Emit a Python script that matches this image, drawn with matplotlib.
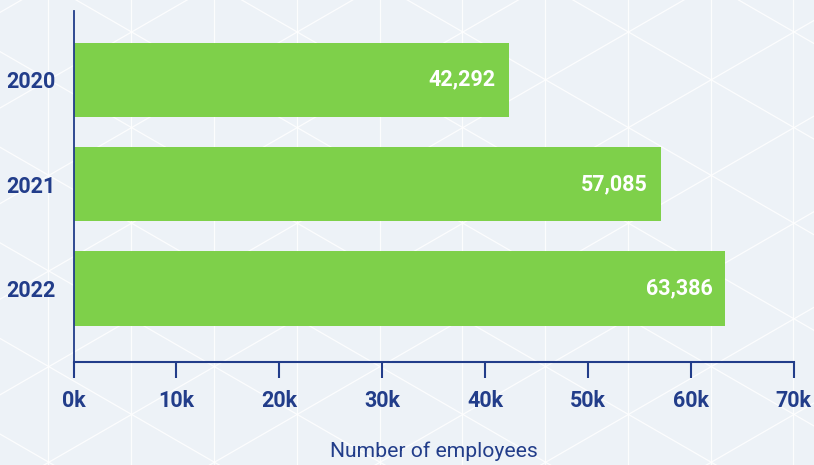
import matplotlib.pyplot as plt
import numpy as np

years = ['2020', '2021', '2022']
employees = [42292, 57085, 63386]
tick_values = [0, 10000, 20000, 30000, 40000, 50000, 60000, 70000]

navy = '#223d8a'
green = '#7ed04a'
bg = '#edf2f7'

plt.rcParams['font.family'] = ['Roboto', 'DejaVu Sans']

fig = plt.figure(figsize=(8.14, 4.65), dpi=100)
fig.patch.set_facecolor(bg)

# faint triangle lattice behind the chart (pixel coordinates)
back = fig.add_axes([0, 0, 1, 1], zorder=0)
back.set_xlim(0, 814)
back.set_ylim(465, 0)
back.axis('off')
step = 82.8
side = step / np.cos(np.pi / 6)
slope = np.tan(np.pi / 6)
for k in range(-1, 12):
    back.axvline(48.3 + k * step, color='white', lw=0.9, alpha=0.85)
xs = np.array([0, 814])
for n in range(-12, 16):
    back.plot(xs, slope * xs - 44.0 + n * side, color='white', lw=0.9, alpha=0.85)
    back.plot(xs, -slope * xs + 108.0 + n * side, color='white', lw=0.9, alpha=0.85)

ax = fig.add_axes([73.5 / 814, 1 - 361.7 / 465, 720 / 814, 351 / 465], zorder=1)
ax.patch.set_alpha(0)

pos = np.arange(len(years))
ax.barh(pos, employees, height=0.71, color=green, zorder=2)
for p, v in zip(pos, employees):
    ax.annotate(f'{v:,}', (v, p), xytext=(-13, 0), textcoords='offset pixels',
                ha='right', va='center', color='white', fontsize=15.5,
                fontweight='bold')

ax.set_xlim(0, 70000)
ax.set_ylim(2.70, -0.66)
ax.set_yticks(pos)
ax.set_yticklabels(years)
ax.set_xticks(tick_values)
ax.set_xticklabels([f'{v // 1000}k' for v in tick_values])

ax.tick_params(axis='y', length=0, pad=13, labelsize=15.5, labelcolor=navy)
ax.tick_params(axis='x', length=11.5, width=1.5, color=navy, pad=9,
               labelsize=15.5, labelcolor=navy)
for lab in ax.get_xticklabels() + ax.get_yticklabels():
    lab.set_fontweight('bold')

for side_name in ['top', 'right']:
    ax.spines[side_name].set_visible(False)
ax.spines['left'].set_color(navy)
ax.spines['left'].set_linewidth(1.3)
ax.spines['bottom'].set_color(navy)
ax.spines['bottom'].set_linewidth(1.5)

fig.text(433.5 / 814, 1 - 457 / 465, 'Number of employees', ha='center',
         va='baseline', color=navy, fontsize=15.2)

fig.savefig('out.png', dpi=100, facecolor=bg)
